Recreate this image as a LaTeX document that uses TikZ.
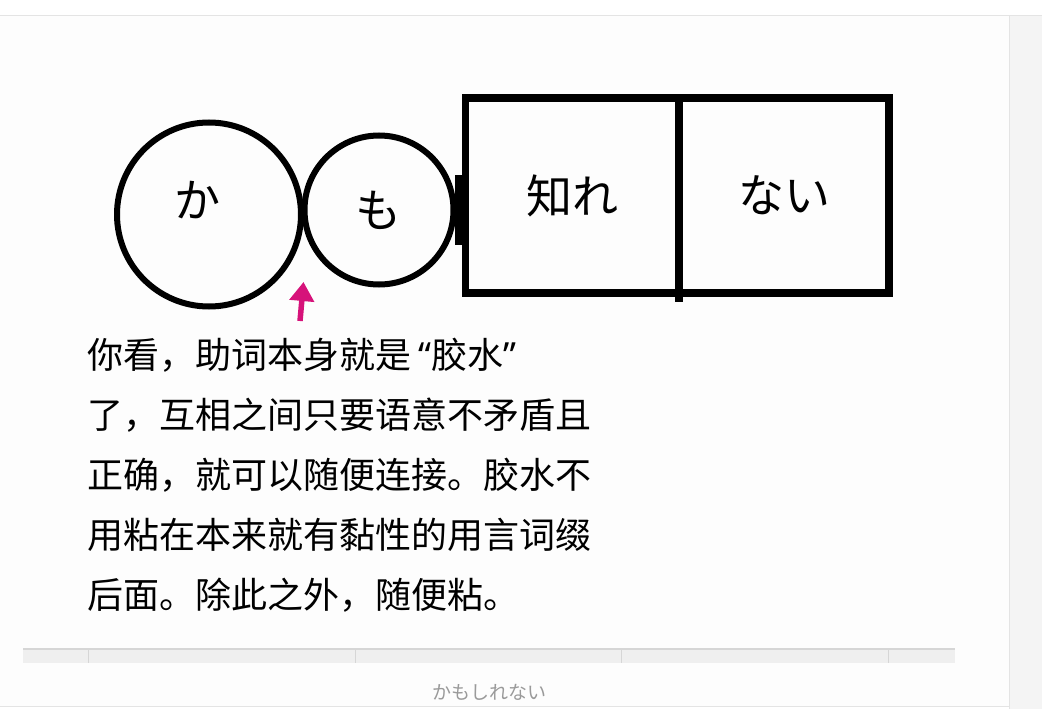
\documentclass[tikz,border=0pt]{standalone}
\usepackage{fontspec}
\setmainfont{Noto Sans CJK SC}
\newfontfamily\jpfont{Noto Sans CJK JP}
\newfontfamily\latinfont{Noto Sans}
\usetikzlibrary{arrows.meta}
\definecolor{gluepink}{HTML}{D6127A}
\definecolor{pagebg}{HTML}{FDFDFD}
\definecolor{sidegray}{HTML}{F4F4F4}
\definecolor{rulegray}{HTML}{E4E4E4}
\definecolor{stripgray}{HTML}{EFEFEF}
\definecolor{stripline}{HTML}{D6D6D6}
\definecolor{captiongray}{HTML}{9A9A9A}

\begin{document}
\begin{tikzpicture}[
    x=1pt, y=-1pt,
    glyph/.style={draw, circle, line width=6pt, inner sep=0pt, outer sep=0pt},
    wordbox/.style={draw, rectangle, line width=7.5pt, inner sep=0pt, outer sep=0pt, minimum height=195pt, font=\jpfont\fontsize{46}{50}\selectfont},
    kana/.style={inner sep=0pt, font=\jpfont\fontsize{46}{50}\selectfont},
    bodyline/.style={anchor=base west, inner sep=0pt, font=\fontsize{36}{40}\selectfont}
]
    % page frame of the screenshot
    \useasboundingbox (0,0) rectangle (1042,709);
    \fill[white] (0,0) rectangle (1042,709);
    \fill[pagebg] (0,16) rectangle (1009,706);
    \fill[sidegray] (1009,16) rectangle (1042,709);
    \draw[rulegray, line width=1.5pt] (0,15.5) -- (1042,15.5);
    \draw[rulegray] (1009,16) -- (1009,709);
    \draw[rulegray] (0,706) -- (1009,706);

    % table row cut off at the bottom
    \fill[stripgray] (23,648) rectangle (955,663);
    \draw[stripline, line width=2pt] (23,649) -- (955,649);
    \draw[stripline] (88,650) -- (88,663);
    \draw[stripline] (355,650) -- (355,663);
    \draw[stripline] (621,650) -- (621,663);
    \draw[stripline] (888,650) -- (888,663);
    \node[text=captiongray, font=\jpfont\fontsize{19}{20}\selectfont] (caption) at (489,692) {かもしれない};

    % particles and word
    \node[glyph, minimum size=184pt] (ka) at (209,214.5) {};
    \node[glyph, minimum size=149pt] (mo) at (379,210) {};
    \node[kana] (kachar) at (197,200) {か};
    \node[kana] (mochar) at (378,210) {も};
    \node[fill, inner sep=0pt, minimum width=8pt, minimum height=70pt] (joint) at (459,210) {};
    \node[wordbox, minimum width=213.5pt] (shire) at (572.25,195.5) {知れ};
    \node[wordbox, minimum width=210pt] (nai) at (784,195.5) {ない};
    \draw[line width=7.5pt] (shire.north east) -- ([yshift=-9pt]shire.south east);

    % glue arrow
    \coordinate (gluebase) at (300,321);
    \coordinate (gluetip) at (303.5,282);
    \draw[-{Triangle[width=24pt,length=19pt]}, gluepink, line width=5.5pt] (gluebase) -- (gluetip);

    % explanation
    \node[bodyline] (line1) at (87,368) {你看，助词本身就是\hspace{7pt}{\latinfont “}胶水{\latinfont ”}};
    \node[bodyline] (line2) at (87,428) {了，互相之间只要语意不矛盾且};
    \node[bodyline] (line3) at (87,488) {正确，就可以随便连接。胶水不};
    \node[bodyline] (line4) at (87,548) {用粘在本来就有黏性的用言词缀};
    \node[bodyline] (line5) at (87,608) {后面。除此之外，随便粘。};
\end{tikzpicture}
\end{document}
